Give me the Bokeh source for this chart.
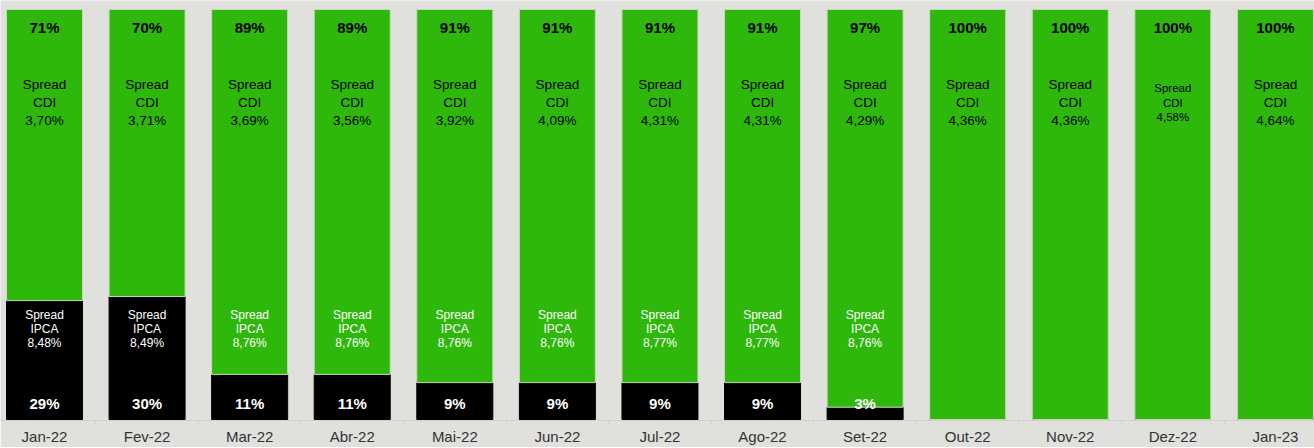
from bokeh.plotting import figure
from bokeh.models import Range1d, FixedTicker, ColumnDataSource
from bokeh.core.properties import value
from bokeh.embed import file_html
from bokeh.resources import INLINE

months = ["Jan-22", "Fev-22", "Mar-22", "Abr-22", "Mai-22", "Jun-22", "Jul-22",
          "Ago-22", "Set-22", "Out-22", "Nov-22", "Dez-22", "Jan-23"]
ipca_share = [29, 30, 11, 11, 9, 9, 9, 9, 3, 0, 0, 0, 0]
cdi_share = [71, 70, 89, 89, 91, 91, 91, 91, 97, 100, 100, 100, 100]
cdi_spread = ["3,70%", "3,71%", "3,69%", "3,56%", "3,92%", "4,09%", "4,31%",
              "4,31%", "4,29%", "4,36%", "4,36%", "4,58%", "4,64%"]
ipca_spread = ["8,48%", "8,49%", "8,76%", "8,76%", "8,76%", "8,76%", "8,77%",
               "8,77%", "8,76%"]

BG = "#e0e0dc"
GREEN = "#2eb80b"
FONT = value("Liberation Sans")

n = len(months)
xs = list(range(n))

p = figure(frame_width=1314, frame_height=420, output_backend="svg", toolbar_location=None,
           x_range=Range1d(-0.429, 12.381), y_range=Range1d(-0.24, 102.2),
           min_border=0, min_border_left=0, min_border_right=0, min_border_top=0,
           background_fill_color=BG, border_fill_color=BG)
p.outline_line_color = None
p.grid.visible = False
p.yaxis.visible = False

src = ColumnDataSource(dict(x=xs, ipca=ipca_share, cdi=cdi_share))
p.vbar_stack(["ipca", "cdi"], x="x", width=0.741, source=src,
             color=["#000000", GREEN], line_color=["#000000", "#cad6c0"], line_width=1)

# axis
xa = p.xaxis[0]
xa.ticker = FixedTicker(ticks=xs, minor_ticks=[i + 0.5 for i in range(-1, n)])
xa.major_label_overrides = {i: m for i, m in enumerate(months)}
xa.major_tick_line_color = None
xa.major_tick_out = 0
xa.major_tick_in = 0
xa.minor_tick_out = 4
xa.minor_tick_in = 0
xa.minor_tick_line_color = "#d0d0cc"
xa.axis_line_color = "#d0d0cc"
xa.major_label_standoff = 3
xa.major_label_text_font = "Liberation Sans"
xa.major_label_text_font_size = "15px"
xa.major_label_text_color = "#333333"

# top percentages
p.text(x=xs, y=[95.6] * n, text=[f"{v}%" for v in cdi_share], text_font=FONT,
       text_font_size="15px", text_font_style="bold", text_color="#000000",
       text_align="center", text_baseline="middle")

# CDI labels
cdi_lbl = [f"Spread\nCDI\n{s}" for s in cdi_spread]
big = [i for i in xs if i != 11]
small = [11]
p.text(x=[xs[i] for i in big], y=[77.3] * len(big), text=[cdi_lbl[i] for i in big],
       text_font=FONT, text_font_size="13.5px",
       text_color="#000000", text_align="center", text_baseline="middle",
       text_line_height=1.19)
p.text(x=[xs[i] for i in small], y=[77.3] * len(small), text=[cdi_lbl[i] for i in small],
       text_font=FONT, text_font_size="11.5px",
       text_color="#000000", text_align="center", text_baseline="middle",
       text_line_height=1.19)

# IPCA labels
m = len(ipca_spread)
p.text(x=xs[:m], y=[22] * m, text=[f"Spread\nIPCA\n{s}" for s in ipca_spread],
       text_font=FONT, text_font_size="12px", text_color="#ffffff",
       text_align="center", text_baseline="middle", text_line_height=1.0)

# bottom percentages
p.text(x=xs[:m], y=[3.9] * m, text=[f"{v}%" for v in ipca_share[:m]], text_font=FONT,
       text_font_size="15px", text_font_style="bold", text_color="#ffffff",
       text_align="center", text_baseline="middle")

open("out.html", "w").write(file_html(p, INLINE))
